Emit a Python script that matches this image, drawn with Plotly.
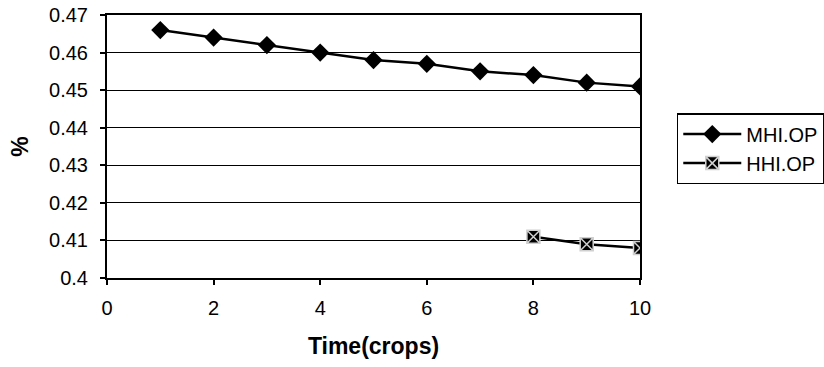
import plotly.graph_objects as go

mhi_x = [1, 2, 3, 4, 5, 6, 7, 8, 9, 10]
mhi_y = [0.466, 0.464, 0.462, 0.460, 0.458, 0.457, 0.455, 0.454, 0.452, 0.451]
hhi_x = [8, 9, 10]
hhi_y = [0.411, 0.409, 0.408]

x_ticks = [0, 2, 4, 6, 8, 10]
y_ticks = [0.40, 0.41, 0.42, 0.43, 0.44, 0.45, 0.46, 0.47]
y_labels = ["0.4", "0.41", "0.42", "0.43", "0.44", "0.45", "0.46", "0.47"]

fig = go.Figure()
fig.add_trace(go.Scatter(
    x=mhi_x, y=mhi_y, name="MHI.OP", mode="lines+markers",
    line=dict(color="black", width=2.5),
    marker=dict(symbol="diamond", size=14, color="black"),
))
fig.add_trace(go.Scatter(
    x=hhi_x, y=hhi_y, name="HHI.OP", mode="lines+markers",
    line=dict(color="black", width=2.5),
    marker=dict(symbol="square-x", size=13, color="black",
                line=dict(color="#d0d0d0", width=1.5)),
))

font = "Liberation Sans, Arial, sans-serif"
fig.update_layout(
    width=824, height=367,
    margin=dict(l=107, r=184, t=15, b=89, autoexpand=False),
    plot_bgcolor="white", paper_bgcolor="white",
    font=dict(family=font, size=20, color="black"),
    showlegend=True,
    legend=dict(
        x=1.069, y=0.627, xanchor="left", yanchor="top",
        bordercolor="black", borderwidth=1.5, bgcolor="white",
        font=dict(size=20), itemwidth=58, tracegroupgap=0,
    ),
    xaxis=dict(
        range=[0, 10], tickmode="array", tickvals=x_ticks,
        showgrid=False, zeroline=False,
        showline=True, linecolor="black", linewidth=2, mirror=True,
        ticks="outside", ticklen=5, tickcolor="black", tickwidth=1.5,
        ticklabelstandoff=6,
        tickfont=dict(size=20),
        title=dict(text="<b>Time(crops)</b>", font=dict(size=23), standoff=20),
    ),
    yaxis=dict(
        range=[0.40, 0.47], tickmode="array", tickvals=y_ticks, ticktext=y_labels,
        showgrid=True, gridcolor="black", gridwidth=1, zeroline=False,
        showline=True, linecolor="black", linewidth=2, mirror=True,
        ticks="outside", ticklen=5, tickcolor="black", tickwidth=1.5,
        ticklabelstandoff=8,
        tickfont=dict(size=20),
        title=dict(text="<b>%</b>", font=dict(size=23), standoff=14),
    ),
)

fig.write_html("out.html")
